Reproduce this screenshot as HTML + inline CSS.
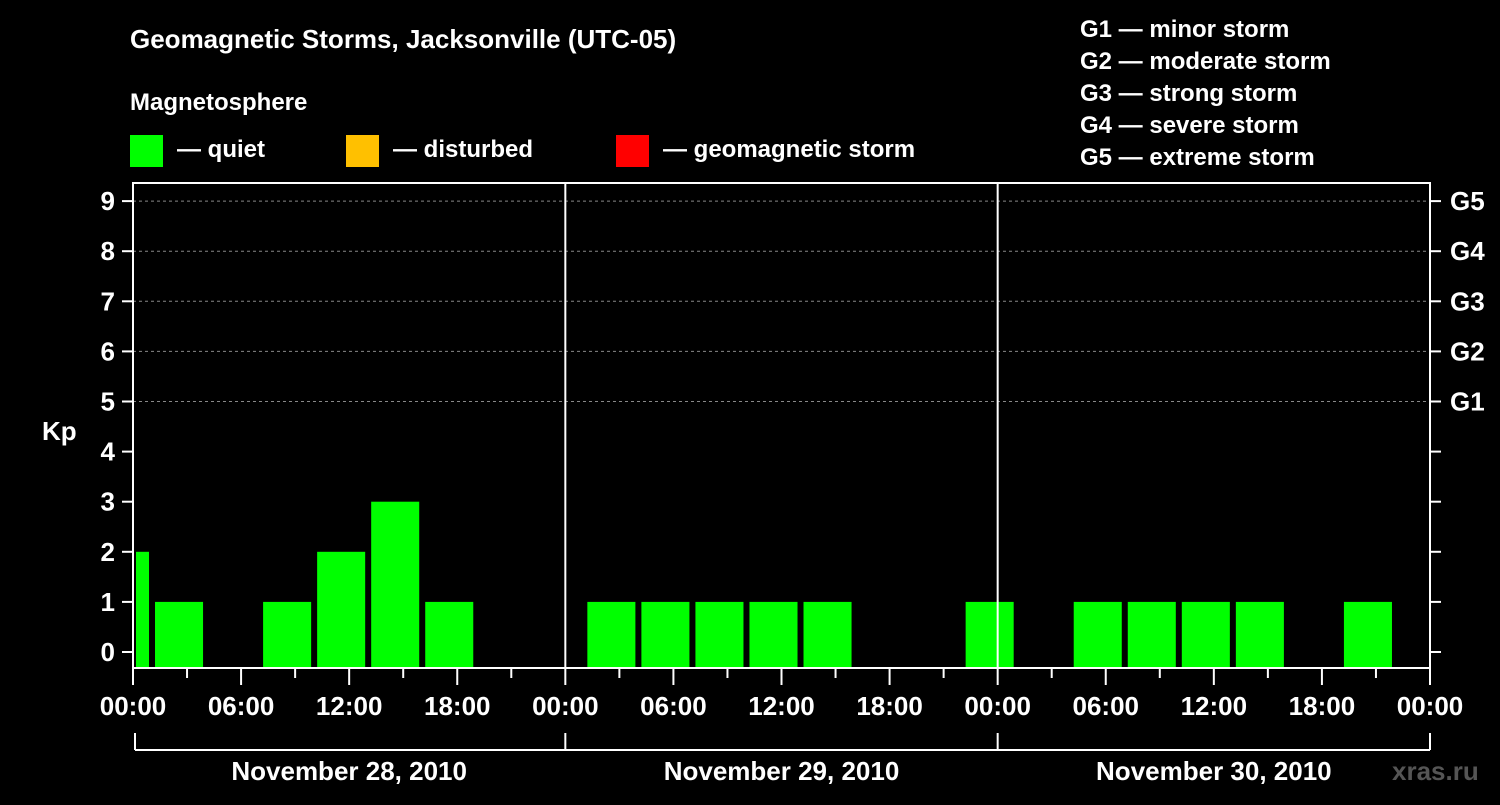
<!DOCTYPE html>
<html><head><meta charset="utf-8"><style>
html,body{margin:0;padding:0;background:#000;}
svg text{font-family:"Liberation Sans",sans-serif;font-weight:bold;fill:#fff;}
</style></head><body>
<svg id="chart" width="1500" height="800" xmlns="http://www.w3.org/2000/svg">
<rect width="1500" height="800" fill="#000"/>
<text x="130" y="48" font-size="26">Geomagnetic Storms, Jacksonville (UTC-05)</text>
<text x="130" y="110" font-size="24">Magnetosphere</text>
<g><rect x="130" y="135" width="33" height="32" fill="#00ff00"/><text x="177" y="157" font-size="24">— quiet</text></g>
<g><rect x="346" y="135" width="33" height="32" fill="#ffc000"/><text x="393" y="157" font-size="24">— disturbed</text></g>
<g><rect x="616" y="135" width="33" height="32" fill="#ff0000"/><text x="663" y="157" font-size="24">— geomagnetic storm</text></g>
<g font-size="24">
<text x="1080" y="37">G1 — minor storm</text>
<text x="1080" y="69">G2 — moderate storm</text>
<text x="1080" y="101">G3 — strong storm</text>
<text x="1080" y="133">G4 — severe storm</text>
<text x="1080" y="165">G5 — extreme storm</text>
</g>
<text x="42" y="440" font-size="26">Kp</text>
<text x="1392" y="780" font-size="26" fill="#555" style="fill:#555">xras.ru</text>
<g id="plot"></g>
</svg>
<script>
const days = ["November 28, 2010","November 29, 2010","November 30, 2010"];
const startHours = [-2,1,4,7,10,13,16,19,22];
const day1Kp = [2,1,null,1,2,3,1,null,null];
const day2Kp = [null,1,1,1,1,1,null,null,1];
const day3Kp = [null,null,1,1,1,1,null,1,null];
const timeLabels = ["00:00","06:00","12:00","18:00"];
const gLabels = ["G1","G2","G3","G4","G5"];

const NS="http://www.w3.org/2000/svg";
const g=document.getElementById('plot');
const X0=133,X1=1430,YT=183,YB=668;
const hourX=h=>X0+h*(X1-X0)/72;
const kpY=v=>652-v*50.1;
function mk(tag,attrs,parent){const e=document.createElementNS(NS,tag);for(const k in attrs)e.setAttribute(k,attrs[k]);(parent||g).appendChild(e);return e;}

// gridlines
for(let v=5;v<=9;v++){
  const l=mk('line',{x1:X0,x2:X1,y1:kpY(v),y2:kpY(v),stroke:'#888','stroke-dasharray':'3,3','stroke-width':1});
  
  
}
// bars
const all=[day1Kp,day2Kp,day3Kp];
all.forEach((arr,d)=>{
  arr.forEach((v,i)=>{
    if(v===null)return;
    let h0=d*24+startHours[i], h1=h0+3;
    let x0=Math.max(hourX(h0)+4,X0+3), x1=hourX(h1)-2;
    const c=v>=5?'#ff0000':(v>=4?'#ffc000':'#00ff00');
    const r=mk('rect',{x:x0,y:kpY(v),width:x1-x0,height:YB-1-kpY(v),fill:c});
    
    
  });
});
// frame
const fr=mk('rect',{x:X0,y:YT,width:X1-X0,height:YB-YT,fill:'none',stroke:'#fff','stroke-width':2});


for(let d=1;d<3;d++){
  const l=mk('line',{x1:hourX(d*24),x2:hourX(d*24),y1:YT,y2:YB,stroke:'#fff','stroke-width':2});
  
  
}
// y ticks & labels
for(let v=0;v<=9;v++){
  const y=kpY(v);
  mk('line',{x1:X0-11,x2:X0,y1:y,y2:y,stroke:'#fff','stroke-width':2});
  mk('line',{x1:X1,x2:X1+11,y1:y,y2:y,stroke:'#fff','stroke-width':2});
  const t=mk('text',{x:X0-18,y:y+9,'font-size':26,'text-anchor':'end'});
  t.textContent=v;
  
  
}
gLabels.forEach((s,i)=>{
  const t=mk('text',{x:1450,y:kpY(5+i)+9,'font-size':26});
  t.textContent=s;
  
  
});
// x ticks
for(let h=0;h<=72;h+=3){
  const x=hourX(h);
  mk('line',{x1:x,x2:x,y1:YB,y2:h%6===0?685:678,stroke:'#fff','stroke-width':2});
  if(h%6===0){
    const t=mk('text',{x:x,y:715,'font-size':26,'text-anchor':'middle'});
    t.textContent=timeLabels[(h/6)%4];
    
    
  }
}
// day brackets
mk('line',{x1:hourX(0)+2,x2:X1,y1:750,y2:750,stroke:'#fff','stroke-width':2});
for(let d=0;d<=3;d++){const x=d==0?hourX(0)+2:hourX(d*24);mk('line',{x1:x,x2:x,y1:733,y2:750,stroke:'#fff','stroke-width':2});}
days.forEach((s,d)=>{
  const t=mk('text',{x:hourX(d*24+12),y:780,'font-size':26,'text-anchor':'middle'});
  t.textContent=s;
  
  
});
</script>
</body></html>
